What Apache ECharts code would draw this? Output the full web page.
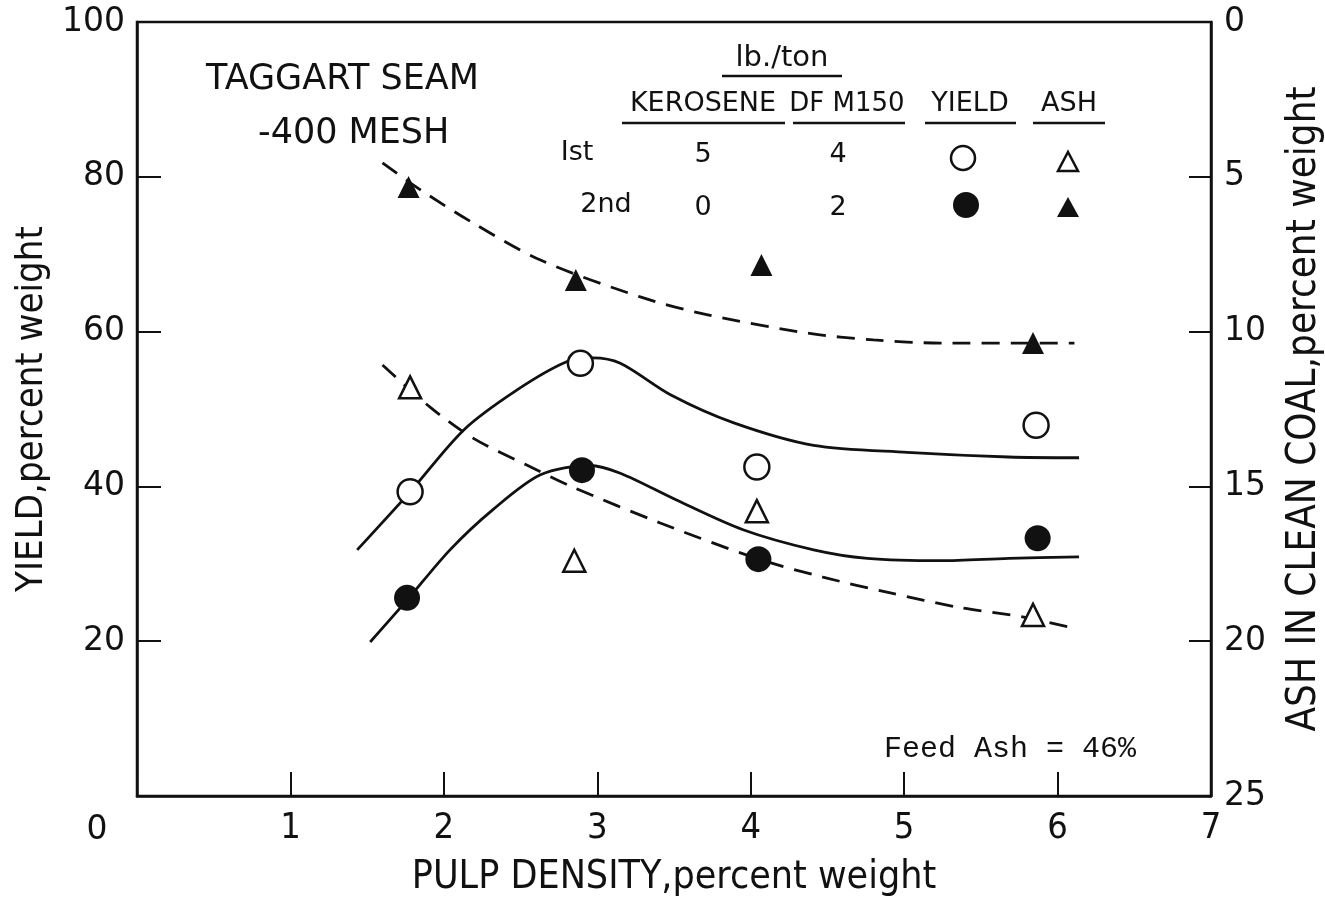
<!DOCTYPE html>
<html>
<head>
<meta charset="utf-8">
<script src="https://cdn.jsdelivr.net/npm/echarts@6/dist/echarts.min.js"></script>
<style>html,body{margin:0;padding:0;background:#fff;}#c{width:1325px;height:900px;}</style>
</head>
<body>
<div id="c"></div>
<script>
// ---- data ----
const xTicks = [0,1,2,3,4,5,6,7];
const yieldTicks = [0,20,40,60,80,100];
const ashTicks = [0,5,10,15,20,25];

// measured points: [pulp density, value]
const yield1st = [[1.78,39.3],[2.89,55.9],[4.04,42.5],[5.86,47.9]];
const yield2nd = [[1.76,25.6],[2.90,42.1],[4.05,30.6],[5.87,33.3]];
const ash1st = [[1.78,11.8],[2.85,17.4],[4.04,15.8],[5.84,19.15]];
const ash2nd = [[1.77,5.33],[2.86,8.33],[4.07,7.85],[5.84,10.37]];

// hand-drawn fitted curves
const yield1stCurve = [[1.435,31.8],[1.78,39.3],[2.13,47.3],[2.48,52.5],[2.80,56.1],[2.97,56.6],[3.15,55.9],[3.48,51.8],[3.89,48.2],[4.41,45.3],[5.02,44.4],[5.68,43.8],[6.14,43.7]];
const yield2ndCurve = [[1.52,19.9],[1.76,25.3],[2.04,31.8],[2.32,37.0],[2.63,41.5],[2.95,42.7],[3.15,41.7],[3.52,38.2],[3.95,34.4],[4.41,31.8],[4.76,30.7],[5.24,30.4],[5.68,30.7],[6.14,30.9]];
const ash2ndCurve = [[1.60,4.55],[1.85,5.43],[2.19,6.49],[2.63,7.69],[3.28,8.88],[3.72,9.46],[4.37,10.05],[4.80,10.27],[5.24,10.37],[6.11,10.37]];
const ash1stCurve = [[1.60,11.08],[1.91,12.44],[2.19,13.44],[2.54,14.31],[2.84,15.02],[3.41,16.18],[4.04,17.33],[4.47,17.93],[4.91,18.44],[5.35,18.90],[5.78,19.22],[6.12,19.6]];

const titleTop = 'TAGGART SEAM';
const titleSub = '-400 MESH';
const feedAsh = 'Feed Ash = 46%';
const tableHead = ['KEROSENE','DF M150','YIELD','ASH'];
const tableRows = [['Ist','5','4'],['2nd','0','2']];

// ---- chart ----
const chart = echarts.init(document.getElementById('c'));
const BLK = '#111';
const condensed = '"DejaVu Sans Condensed","Liberation Sans Narrow",sans-serif';
const round = '"DejaVu Sans",sans-serif';

function curve(name, data, yIdx, dashed){
  return {name, type:'line', data, yAxisIndex:yIdx, smooth:0.3, showSymbol:false, silent:true,
    lineStyle:{color:BLK, width:2.8, type: dashed ? [18,11] : 'solid'}, z:2};
}
function pts(name, data, yIdx, symbol, filled, size){
  return {name, type:'scatter', data, yAxisIndex:yIdx, symbol, symbolSize:size,
    itemStyle:{color: filled ? BLK : '#fff', borderColor:BLK, borderWidth: filled?0:2.5, opacity:1}, z:5};
}
function txt(text, x, y, size, align, family){
  return {type:'text', x, y, style:{text, font: size+'px '+(family||round), fill:BLK, align:align||'center', verticalAlign:'middle'}};
}
function uline(x1, x2, y){
  return {type:'line', shape:{x1,y1:y,x2,y2:y}, style:{stroke:BLK, lineWidth:2.5}};
}

const option = {
  backgroundColor:'#fff',
  animation:false,
  grid:{left:137, right:114, top:22, bottom:104, containLabel:false, outerBoundsMode:'none',
    show:true, borderColor:BLK, borderWidth:2.5, backgroundColor:'transparent'},
  xAxis:{type:'value', min:0, max:7, interval:1,
    axisLine:{show:true, lineStyle:{color:BLK,width:2.5}},
    axisTick:{show:true, inside:true, length:24, lineStyle:{color:BLK,width:2}},
    splitLine:{show:false},
    axisLabel:{color:BLK, fontFamily:condensed, fontSize:36, margin:15, formatter:v=> v===0?'':String(v)},
    name:'PULP DENSITY,percent weight', nameLocation:'middle', nameGap:62,
    nameTextStyle:{color:BLK, fontFamily:condensed, fontSize:39}
  },
  yAxis:[
    {type:'value', min:0, max:100, interval:20, position:'left',
      axisLine:{show:true, lineStyle:{color:BLK,width:2.5}},
      axisTick:{show:true, inside:true, length:24, lineStyle:{color:BLK,width:2}},
      splitLine:{show:false},
      axisLabel:{color:BLK, fontFamily:round, fontSize:33, margin:12, formatter:v=> v===0?'':String(v)},
      name:'YIELD,percent weight', nameLocation:'middle', nameGap:84,
      nameTextStyle:{color:BLK, fontFamily:condensed, fontSize:38}
    },
    {type:'value', min:0, max:25, interval:5, position:'right', inverse:true,
      axisLine:{show:true, lineStyle:{color:BLK,width:2.5}},
      axisTick:{show:true, inside:true, length:22, lineStyle:{color:BLK,width:2}},
      splitLine:{show:false},
      axisLabel:{color:BLK, fontFamily:round, fontSize:33, margin:13},
      name:'ASH IN CLEAN COAL,percent weight', nameLocation:'middle', nameGap:74, nameRotate:90,
      nameTextStyle:{color:BLK, fontFamily:condensed, fontSize:40}
    }
  ],
  series:[
    curve('yield1stCurve', yield1stCurve, 0, false),
    curve('yield2ndCurve', yield2ndCurve, 0, false),
    curve('ash2ndCurve', ash2ndCurve, 1, true),
    curve('ash1stCurve', ash1stCurve, 1, true),
    pts('Yield 1st', yield1st, 0, 'circle', false, 25),
    pts('Yield 2nd', yield2nd, 0, 'circle', true, 26),
    pts('Ash 1st', ash1st, 1, 'triangle', false, 22),
    pts('Ash 2nd', ash2nd, 1, 'triangle', true, 22)
  ],
  graphic:[
    txt('0', 97, 830, 33),
    txt(titleTop, 206, 80, 35, 'left'),
    txt(titleSub, 258, 134, 35, 'left'),
    // legend table
    txt('lb./ton', 782, 58, 29),
    uline(722, 842, 76),
    txt(tableHead[0], 703, 104, 27),
    uline(622, 785, 123),
    txt(tableHead[1], 847, 104, 26),
    uline(793, 905, 123),
    txt(tableHead[2], 970, 104, 27),
    uline(925, 1016, 123),
    txt(tableHead[3], 1069, 104, 27),
    uline(1033, 1105, 123),
    txt(tableRows[0][0], 577, 153, 27),
    txt(tableRows[0][1], 703, 155, 27),
    txt(tableRows[0][2], 838, 155, 27),
    {type:'circle', shape:{cx:963, cy:158, r:12}, style:{fill:'#fff', stroke:BLK, lineWidth:2.5}},
    {type:'polygon', shape:{points:[[1068,152],[1078,171],[1058,171]]}, style:{fill:'#fff', stroke:BLK, lineWidth:2.5}},
    txt(tableRows[1][0], 606, 205, 27),
    txt(tableRows[1][1], 703, 208, 27),
    txt(tableRows[1][2], 838, 208, 27),
    {type:'circle', shape:{cx:966, cy:205, r:13}, style:{fill:BLK}},
    {type:'polygon', shape:{points:[[1068,197],[1079,217],[1057,217]]}, style:{fill:BLK}},
    txt(feedAsh, 884, 749, 30, 'left', '"Liberation Mono",monospace')
  ]
};
chart.setOption(option);
</script>
</body>
</html>
